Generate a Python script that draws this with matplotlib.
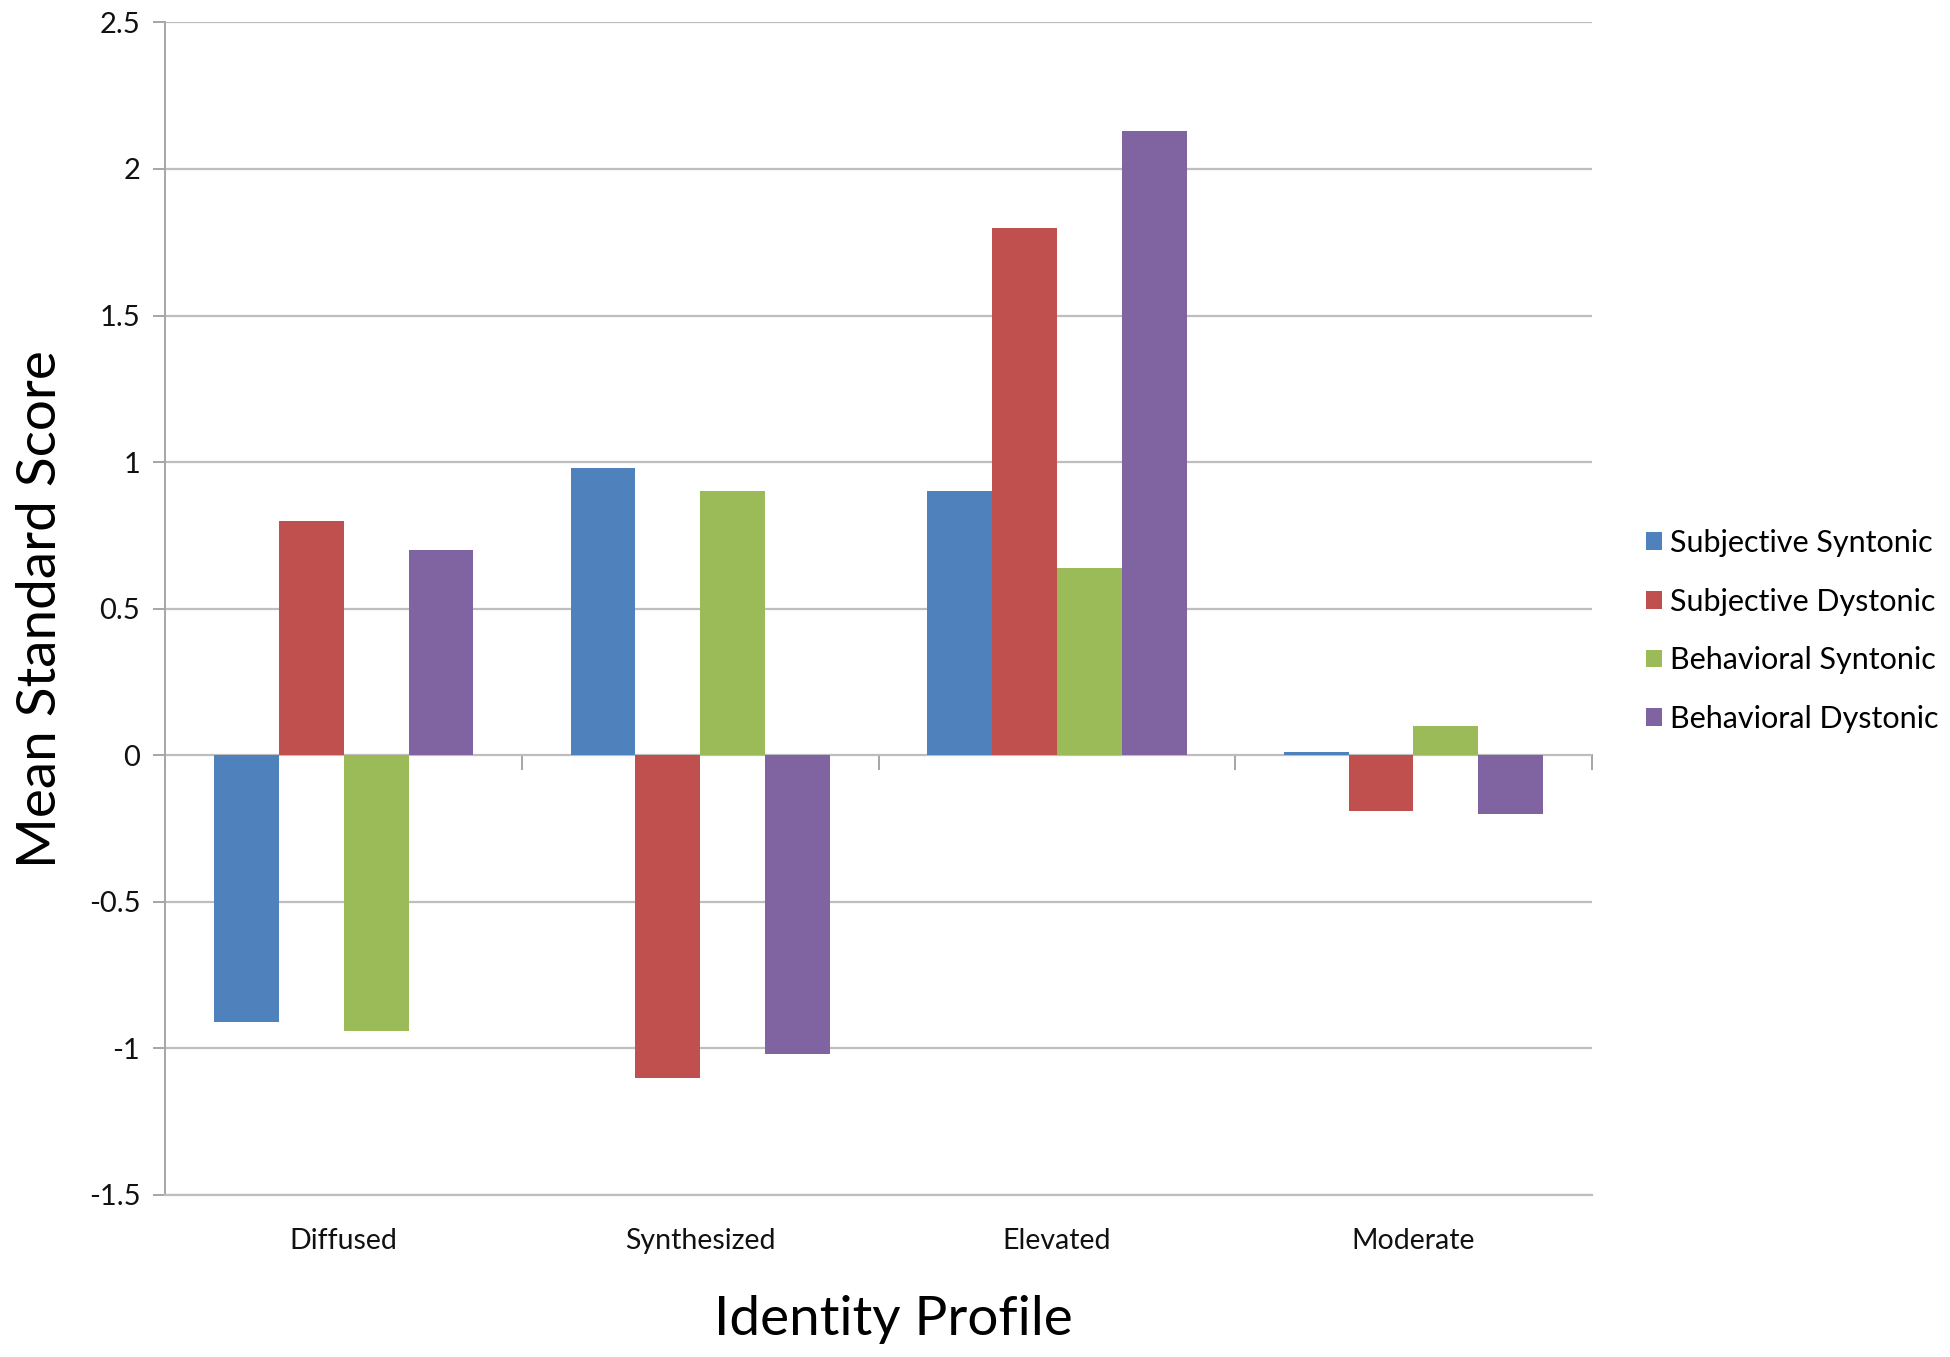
import matplotlib
matplotlib.use("Agg")
import matplotlib.pyplot as plt
import numpy as np

categories = ["Diffused", "Synthesized", "Elevated", "Moderate"]
series_names = ["Subjective Syntonic", "Subjective Dystonic", "Behavioral Syntonic", "Behavioral Dystonic"]
subjective_syntonic = [-0.91, 0.98, 0.90, 0.01]
subjective_dystonic = [0.80, -1.10, 1.80, -0.19]
behavioral_syntonic = [-0.94, 0.90, 0.64, 0.10]
behavioral_dystonic = [0.70, -1.02, 2.13, -0.20]
y_ticks = [-1.5, -1, -0.5, 0, 0.5, 1, 1.5, 2, 2.5]
y_tick_labels = ["-1.5", "-1", "-0.5", "0", "0.5", "1", "1.5", "2", "2.5"]
colors = ["#4F81BD", "#C0504D", "#9BBB59", "#8064A2"]

plt.rcParams['font.family'] = ['Lato', 'DejaVu Sans']

fig = plt.figure(figsize=(19.5, 13.57), dpi=100)
ax = fig.add_axes([0.0848, 0.1194, 0.7315, 0.8641])

data = [subjective_syntonic, subjective_dystonic, behavioral_syntonic, behavioral_dystonic]
x = np.arange(len(categories))
w = 1.0 / 5.5
for i, (vals, name, c) in enumerate(zip(data, series_names, colors)):
    ax.bar(x + (i - 1.5) * w, vals, width=w, color=c, label=name, zorder=3)

ax.set_xlim(-0.5, len(categories) - 0.5)
ax.set_ylim(-1.5, 2.5)
ax.set_yticks(y_ticks)
ax.set_yticklabels(y_tick_labels)
ax.yaxis.grid(True, color="#BEBEBE", linewidth=1.6, zorder=0)
ax.set_axisbelow(True)

for s in ["top", "right"]:
    ax.spines[s].set_visible(False)
ax.spines["left"].set_color("#A6A6A6")
ax.spines["left"].set_linewidth(1.4)
ax.spines["bottom"].set_color("#BEBEBE")
ax.spines["bottom"].set_linewidth(1.6)

ax.tick_params(axis="y", direction="out", length=9, width=1.4, color="#A6A6A6",
               labelsize=21, pad=9, labelcolor="#111111")
ax.set_xticks(x)
ax.set_xticklabels(categories)
ax.tick_params(axis="x", length=0, labelsize=20.5, pad=24, labelcolor="#111111")

# category axis crossing at zero
sec = ax.secondary_xaxis(1.5 / 4.0)
sec.set_xticks(np.arange(-0.5, len(categories), 1.0))
sec.set_xticklabels([])
sec.tick_params(axis="x", direction="out", length=11, width=1.4, color="#A6A6A6")
sec.spines["bottom"].set_color("#A6A6A6")
sec.spines["bottom"].set_linewidth(1.4)

ax.set_xlabel("Identity Profile", fontsize=39.5, labelpad=29, color="#000000")
ax.xaxis.label.set_x(0.5105)
ax.set_ylabel("Mean Standard Score", fontsize=39.5, labelpad=17, color="#000000")

fig.legend(loc="center left", bbox_to_anchor=(0.844, 0.535), frameon=False,
           fontsize=22, handlelength=0.52, handleheight=0.52, handletextpad=0.28,
           labelspacing=1.0, borderpad=0, borderaxespad=0)

fig.savefig("out.png", dpi=100)
